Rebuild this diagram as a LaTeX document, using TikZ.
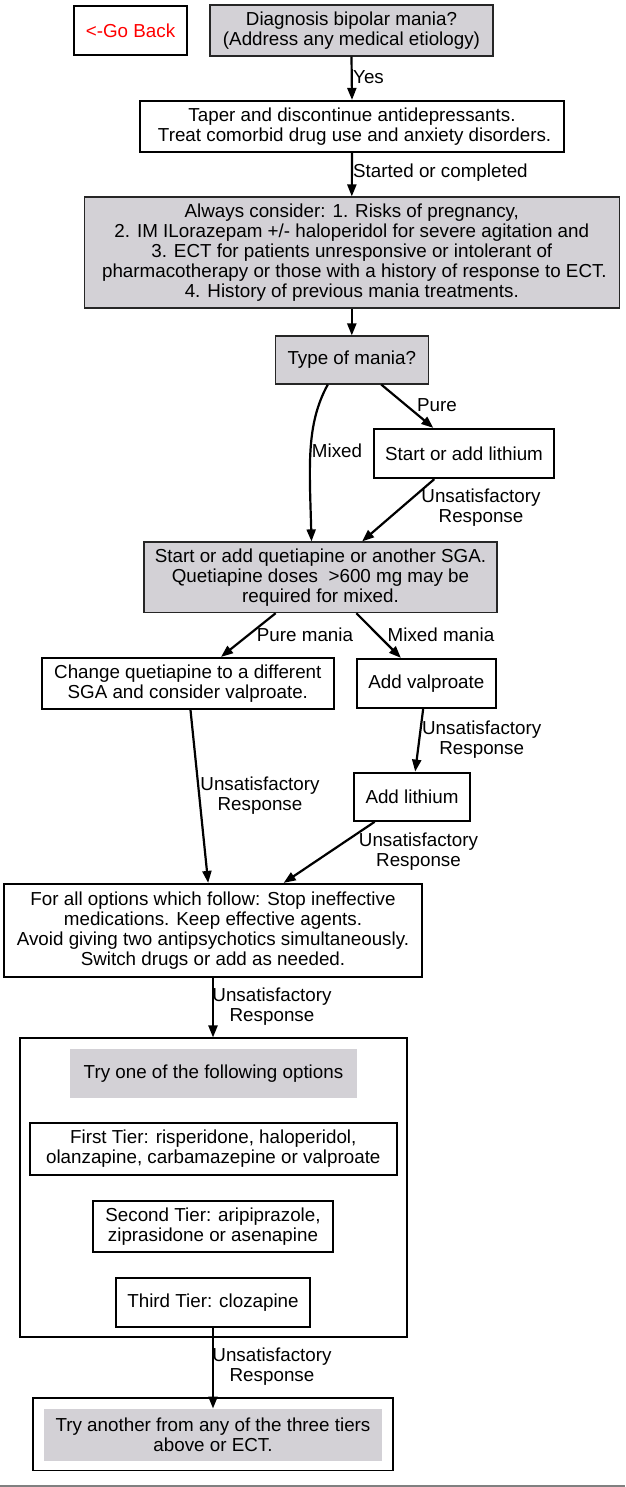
\documentclass[tikz,border=0pt]{standalone}
\usepackage{fontspec}
\setmainfont{Liberation Sans}
\usetikzlibrary{arrows.meta,calc}
\definecolor{gfill}{RGB}{211,209,214}
\definecolor{gline}{RGB}{128,128,128}
\tikzset{
  txt/.style={font=\fontsize{18.8}{20}\selectfont, align=center, inner sep=0pt},
  thickbox/.style={txt, draw=black, line width=2.2pt, fill=white},
  graybox/.style={txt, draw=black!85, line width=1.1pt, fill=gfill},
  grayplain/.style={txt, fill=gfill},
  clusterbox/.style={draw=black, line width=1.1pt, inner sep=0pt},
  lbl/.style={txt},
  arr/.style={line width=2.2pt, -{Triangle[length=12pt,width=9pt]}},
}
\begin{document}
\begin{tikzpicture}[x=1pt,y=-1pt]
\useasboundingbox (0,0) rectangle (625,1487);
\fill[white] (0,0) rectangle (625,1487);
\draw[gline, line width=1.5pt] (0,1486) -- (625,1486);

% clusters
\node[clusterbox, minimum width=387pt, minimum height=299pt] (opts) at (213.5,1187.5) {};
\node[clusterbox, minimum width=360pt, minimum height=72.7pt] (last) at (213,1434.3) {};

% nodes
\node[thickbox, minimum width=113pt, minimum height=49pt, text=red] (back) at (130.5,30.5) {<-Go Back};
\node[graybox, minimum width=283pt, minimum height=51pt] (diag) at (351.5,30.5) {Diagnosis bipolar mania?\\(Address any medical etiology)};
\node[thickbox, minimum width=424pt, minimum height=51pt] (taper) at (352,126.5) {Taper and discontinue antidepressants.\\\ Treat comorbid drug use and anxiety disorders.};
\node[graybox, minimum width=535.5pt, minimum height=111pt] (always) at (351.8,252.5) {Always consider: 1. Risks of pregnancy,\\2. IM ILorazepam +/- haloperidol for severe agitation and\\3. ECT for patients unresponsive or intolerant of\\\ pharmacotherapy or those with a history of response to ECT.\\4. History of previous mania treatments.};
\node[graybox, minimum width=153.5pt, minimum height=48pt] (type) at (351.8,360) {Type of mania?};
\node[thickbox, minimum width=180pt, minimum height=49pt] (lith) at (464,453.5) {Start or add lithium};
\node[graybox, minimum width=353pt, minimum height=70.7pt] (quet) at (320.5,577.3) {Start or add quetiapine or another SGA.\\Quetiapine doses\ \ >600 mg may be\\required for mixed.};
\node[thickbox, minimum width=291.6pt, minimum height=51pt] (change) at (187.8,683.5) {Change quetiapine to a different\\SGA and consider valproate.};
\node[thickbox, minimum width=139.3pt, minimum height=49pt] (valp) at (426.4,683.5) {Add valproate};
\node[thickbox, minimum width=116pt, minimum height=48pt] (addlith) at (412,796.7) {Add lithium};
\node[thickbox, minimum width=417.4pt, minimum height=93pt] (forall) at (213,930.5) {For all options which follow: Stop ineffective\\medications. Keep effective agents.\\Avoid giving two antipsychotics simultaneously.\\Switch drugs or add as needed.};
\node[grayplain, minimum width=287pt, minimum height=49pt] (tryone) at (213.5,1073.5) {Try one of the following options};
\node[thickbox, minimum width=366.6pt, minimum height=52pt] (tier1) at (213.3,1149) {First Tier: risperidone, haloperidol,\\olanzapine, carbamazepine or valproate};
\node[thickbox, minimum width=240pt, minimum height=51.3pt] (tier2) at (213,1226.3) {Second Tier: aripiprazole,\\ziprasidone or asenapine};
\node[thickbox, minimum width=194pt, minimum height=49pt] (tier3) at (213,1302.2) {Third Tier: clozapine};
\node[grayplain, minimum width=338pt, minimum height=52pt] (another) at (213,1434.7) {Try another from any of the three tiers\\above or ECT.};

% connectors
\draw[arr] (diag.south) -- (taper.north);
\draw[arr] (taper.south) -- (always.north);
\draw[arr] (always.south) -- (type.north);
\draw[arr] (type) -- (lith);
\draw[arr] ([xshift=-24pt]type.south) .. controls +(-22,40) and +(-2,-75) .. ([xshift=-9pt]quet.north);
\draw[arr] (lith) -- (quet);
\draw[arr] (quet) -- (change);
\draw[arr] (quet) -- (valp);
\draw[arr] (change) -- (forall);
\draw[arr] (valp) -- (addlith);
\draw[arr] (addlith) -- (forall);
\draw[arr] (forall.south) -- (forall.south |- opts.north);
\draw[arr] (tier3) -- (another);

% connector labels
\node[lbl, anchor=west] (lyes) at (353,77.5) {Yes};
\node[lbl, anchor=west] (lstart) at (353,173) {Started or completed};
\node[lbl] (lpure) at (437,405) {Pure};
\node[lbl] (lmixed) at (337,451) {Mixed};
\node[lbl] (lu1) at (481,507.7) {Unsatisfactory\\Response};
\node[lbl] (lpm) at (305,635) {Pure mania};
\node[lbl] (lmm) at (441,635) {Mixed mania};
\node[lbl] (lu2) at (260,796) {Unsatisfactory\\Response};
\node[lbl] (lu3) at (481.7,740) {Unsatisfactory\\Response};
\node[lbl] (lu4) at (418.5,851.7) {Unsatisfactory\\Response};
\node[lbl] (lu5) at (272,1006.5) {Unsatisfactory\\Response};
\node[lbl] (lu6) at (272,1366.7) {Unsatisfactory\\Response};
\end{tikzpicture}
\end{document}
